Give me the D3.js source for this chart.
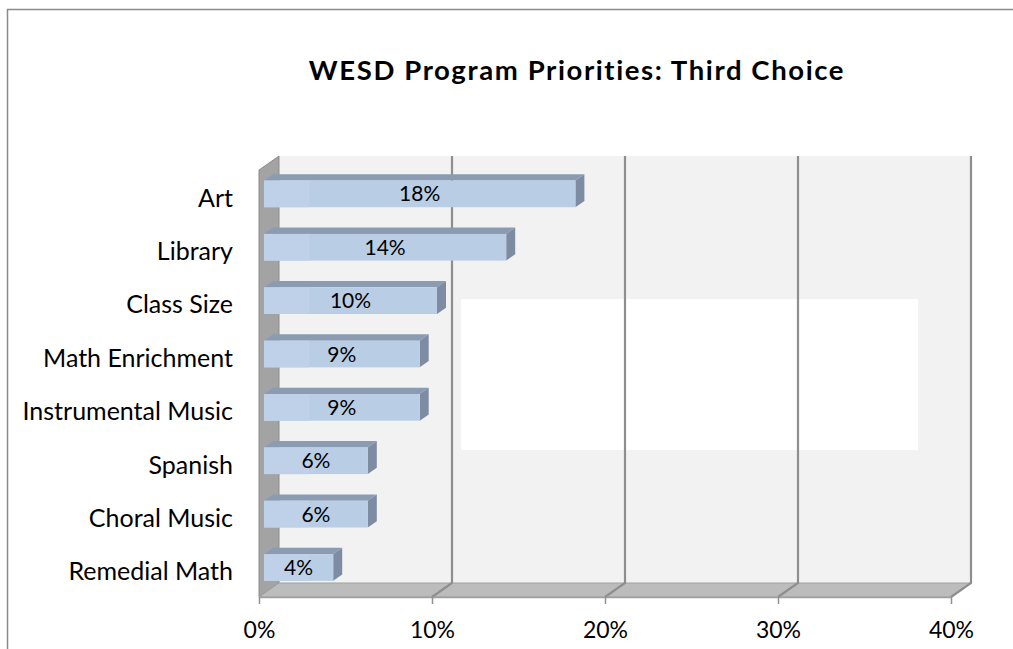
<!DOCTYPE html>
<html>
<head>
<meta charset="utf-8">
<script src="https://cdn.jsdelivr.net/npm/d3@7"></script>
<style>
  html, body { margin: 0; padding: 0; background: #fff; }
  svg { display: block; }
  text { font-family: Lato, "Open Sans", sans-serif; fill: #000; }
</style>
</head>
<body>
<svg id="chart" width="1013" height="649"></svg>
<script>
// Program priorities (third choice), share of respondents in percent
const categories = ["Art", "Library", "Class Size", "Math Enrichment", "Instrumental Music", "Spanish", "Choral Music", "Remedial Math"];
const values = [18, 14, 10, 9, 9, 6, 6, 4];
const tickValues = [0, 10, 20, 30, 40];
const title = "WESD Program Priorities: Third Choice";

const svg = d3.select("#chart");

// chart frame
svg.append("path")
  .attr("d", "M7.5,660 L7.5,9.5 L1020,9.5")
  .attr("fill", "none").attr("stroke", "#8a8a8a").attr("stroke-width", 1.5);

// title
svg.append("text")
  .attr("x", 577).attr("y", 80)
  .attr("text-anchor", "middle")
  .style("font-size", "27.5px").style("font-weight", "bold")
  .style("letter-spacing", "1.6px")
  .text(title);

// front plane of the 3-D plot box
const x0 = 259, x1 = 951, yTop = 170, yBot = 597;
// depth offset of the back wall
const DX = 20, DY = -14;

const x = d3.scaleLinear().domain([0, 40]).range([x0, x1]);
const y = d3.scaleBand().domain(categories).range([yTop, yBot]).paddingInner(0).paddingOuter(0);

const g = svg.append("g");
const pts = a => a.map(p => p.join(",")).join(" ");

// back wall
g.append("polygon")
  .attr("points", pts([[x0 + DX, yTop + DY], [x1 + DX, yTop + DY], [x1 + DX, yBot + DY], [x0 + DX, yBot + DY]]))
  .attr("fill", "#f2f2f2");

// plain panel sitting on the wall
g.append("rect")
  .attr("x", 461).attr("y", 299).attr("width", 457).attr("height", 151)
  .attr("fill", "#ffffff");

// left wall
g.append("polygon")
  .attr("points", pts([[x0, yTop], [x0 + DX, yTop + DY], [x0 + DX, yBot + DY], [x0, yBot]]))
  .attr("fill", "#a3a3a3").attr("stroke", "#8c8c8c").attr("stroke-width", 1);

// floor
g.append("polygon")
  .attr("points", pts([[x0, yBot], [x1, yBot], [x1 + DX, yBot + DY], [x0 + DX, yBot + DY]]))
  .attr("fill", "#bcbcbc").attr("stroke", "#a0a0a0").attr("stroke-width", 1);

// vertical gridlines on the back wall, continued across the floor
const grid = g.append("g");
tickValues.forEach(t => {
  if (t === 0) return;
  const xf = x(t);
  grid.append("path")
    .attr("d", `M${xf + DX},${yTop + DY} L${xf + DX},${yBot + DY} L${xf},${yBot}`)
    .attr("fill", "none").attr("stroke", "#8e8e8e").attr("stroke-width", 2.2);
});

// axis along the front edge of the floor
const axis = d3.axisBottom(x).tickValues(tickValues).tickFormat(d => d + "%").tickSize(7).tickSizeOuter(0);
const ax = svg.append("g").attr("transform", `translate(0,${yBot})`).call(axis);
ax.select(".domain").attr("stroke", "#a0a0a0").attr("stroke-width", 1.5);
ax.selectAll(".tick line").attr("stroke", "#909090").attr("stroke-width", 1.5);
ax.selectAll(".tick text")
  .attr("y", 0).attr("dy", 0)
  .attr("transform", "translate(0,41)")
  .style("font-size", "23px").style("font-family", "Lato, sans-serif").attr("fill", "#000");

// category labels
svg.append("g").selectAll("text").data(categories).join("text")
  .attr("x", 233)
  .attr("y", d => y(d) + y.bandwidth() / 2 + 10)
  .attr("text-anchor", "end")
  .style("font-size", "25px")
  .text(d => d);

// 3-D bars: a bar sits at a fraction of the box depth
const fFront = 0.2, fBack = 0.65;
const bh = y.bandwidth() * 0.5;
const bars = g.append("g");
categories.forEach((c, i) => {
  const v = values[i];
  const ox = DX * fFront + 1, oy = DY * fFront;
  const bx = DX * (fBack - fFront), by = DY * (fBack - fFront);
  const left = x(0) + ox, right = x(v) + ox;
  const top = y(c) + (y.bandwidth() - bh) / 2 + oy, bottom = top + bh;
  const bar = bars.append("g");
  // top face
  bar.append("polygon")
    .attr("points", pts([[left, top], [right, top], [right + bx, top + by], [left + bx, top + by]]))
    .attr("fill", "#8b9bb1");
  // end face
  bar.append("polygon")
    .attr("points", pts([[right, top], [right + bx, top + by], [right + bx, bottom + by], [right, bottom]]))
    .attr("fill", "#7d8ca2");
  // front face
  bar.append("rect")
    .attr("x", left).attr("y", top).attr("width", right - left).attr("height", bh)
    .attr("fill", "#b9cde5");
  bar.append("rect")
    .attr("x", left).attr("y", top).attr("width", Math.min(45, right - left)).attr("height", bh)
    .attr("fill", "#bed1e8");
  // value label
  bar.append("text")
    .attr("x", (left + right) / 2).attr("y", top + bh / 2 + 7.5)
    .attr("text-anchor", "middle")
    .style("font-size", "21px")
    .text(v + "%");
});
</script>
</body>
</html>
